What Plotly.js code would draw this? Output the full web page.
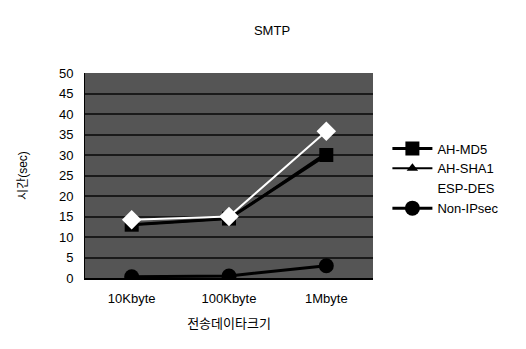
<!DOCTYPE html>
<html><head><meta charset="utf-8">
<script src="https://cdn.plot.ly/plotly-3.0.1.min.js"></script>
<style>html,body{margin:0;padding:0;background:#fff;}#chart{width:526px;height:349px;}</style>
</head><body><div id="chart"></div>
<script>
const categories = ["10Kbyte", "100Kbyte", "1Mbyte"];
const ahMd5 = [13, 14.5, 30];
const ahSha1 = [13, 14.5, 30.5];
const espDes = [14.2, 15, 35.8];
const nonIpsec = [0.3, 0.5, 3];
const seriesNames = ["AH-MD5", "AH-SHA1", "ESP-DES", "Non-IPsec"];
const yTicks = [0, 5, 10, 15, 20, 25, 30, 35, 40, 45, 50];

const font = "'Liberation Sans', 'Noto Sans CJK KR', sans-serif";
const traces = [
  {x: categories, y: ahMd5, name: seriesNames[0], mode: "lines+markers", type: "scatter",
   line: {color: "#000", width: 3}, marker: {symbol: "square", size: 14, color: "#000"}},
  {x: categories, y: ahSha1, name: seriesNames[1], mode: "lines+markers", type: "scatter",
   line: {color: "#000", width: 2}, marker: {symbol: "triangle-up", size: 10, color: "#000"}},
  {x: categories, y: espDes, name: seriesNames[2], mode: "lines+markers", type: "scatter",
   line: {color: "#ffffff", width: 2}, marker: {symbol: "diamond", size: 15, color: "#ffffff"}},
  {x: categories, y: nonIpsec, name: seriesNames[3], mode: "lines+markers", type: "scatter",
   line: {color: "#000", width: 3}, marker: {symbol: "circle", size: 15, color: "#000"}}
];
const layout = {
  width: 526, height: 349,
  margin: {l: 85, r: 153, t: 73, b: 71, pad: 0},
  paper_bgcolor: "#fff", plot_bgcolor: "#555555",
  font: {family: font, size: 12, color: "#000"},
  title: {text: "SMTP", x: 272/526, xanchor: "center", y: 1 - 30/349, yanchor: "middle",
          font: {size: 13, family: font}},
  xaxis: {type: "category", range: [-0.48, 2.48], showgrid: false, zeroline: false,
          showline: true, linecolor: "#000", linewidth: 2, ticks: "", tickfont: {size: 13},
          ticklabelstandoff: 7,
          title: {text: "전송데이타크기", font: {size: 13}, standoff: 14}},
  yaxis: {range: [0, 50], tickvals: yTicks, showgrid: true, gridcolor: "#1a1a1a", gridwidth: 2,
          zeroline: false, showline: true, linecolor: "#000", linewidth: 1, ticks: "",
          tickfont: {size: 13}, ticklabelstandoff: 8,
          title: {text: "시간(sec)", font: {size: 12}, standoff: 28}},
  legend: {x: 1.05, xanchor: "left", y: 0.705, yanchor: "top", bgcolor: "rgba(0,0,0,0)",
           font: {size: 13}, tracegroupgap: 0, itemwidth: 40},
  showlegend: true
};
Plotly.newPlot("chart", traces, layout, {displayModeBar: false, staticPlot: true});
</script></body></html>
